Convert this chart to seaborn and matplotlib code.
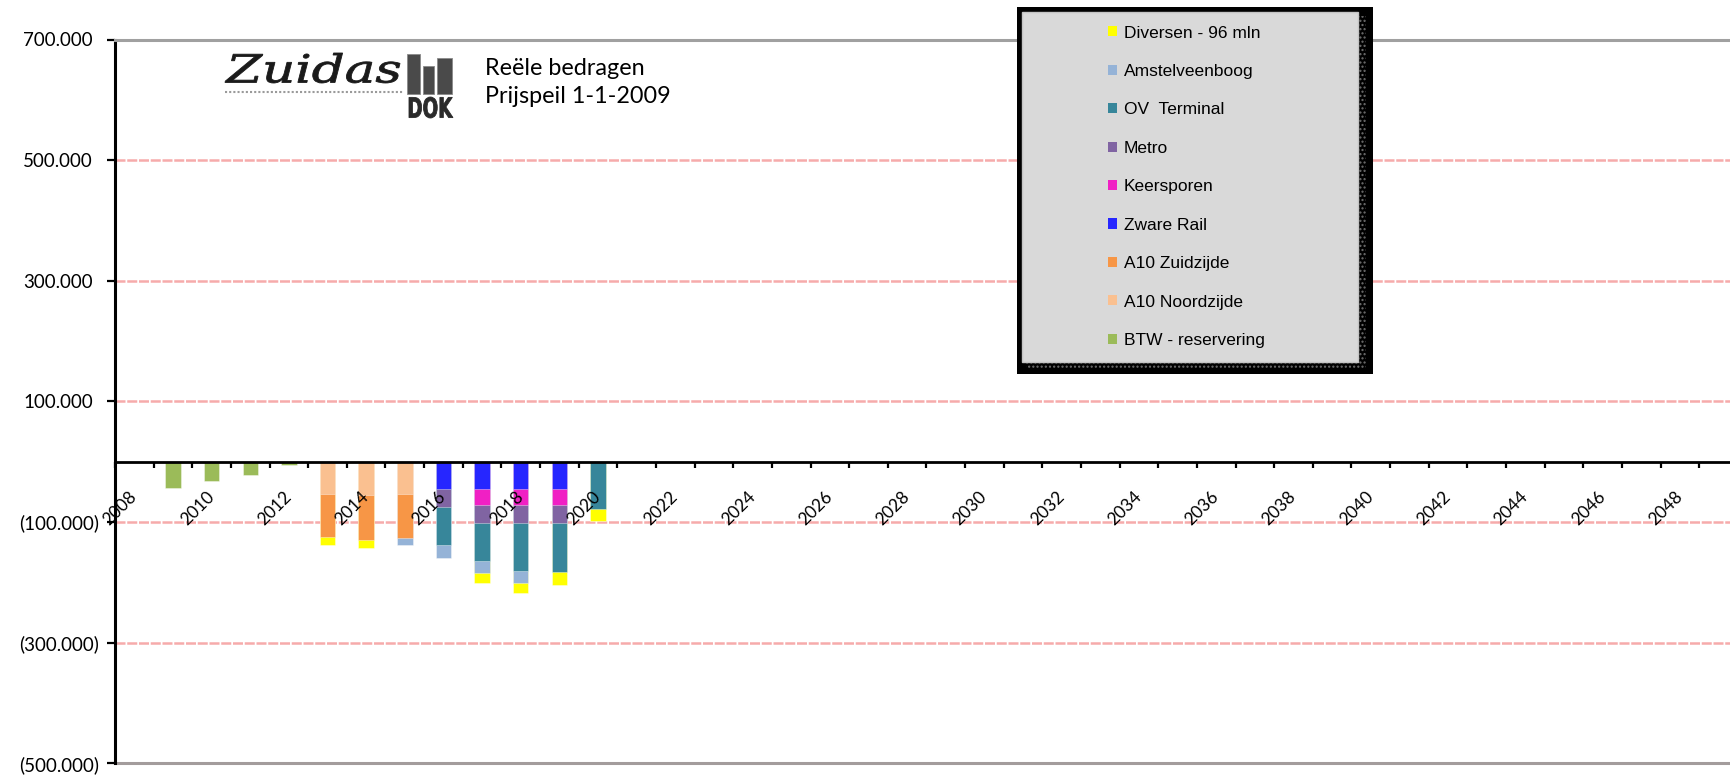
import numpy as np
import pandas as pd
import matplotlib
matplotlib.use("Agg")
import matplotlib.pyplot as plt
import seaborn as sns
from matplotlib.patches import Patch, Rectangle, PathPatch
from matplotlib.lines import Line2D
from matplotlib.textpath import TextPath
from matplotlib.font_manager import FontProperties
from matplotlib.transforms import Affine2D

# categories on the x axis (one per year)
years = list(range(2008, 2050))
data_years = [2008, 2009, 2010, 2011, 2012, 2013, 2014, 2015, 2016, 2017, 2018, 2019, 2020]

# series values (negative = outgoing), per data_years
btw_reservering = [0, -43400, -31800, -22400, -5800, 0, 0, 0, 0, 0, 0, 0, 0]
a10_noordzijde = [0, 0, 0, 0, 0, -53900, -55600, -53900, 0, 0, 0, 0, 0]
a10_zuidzijde = [0, 0, 0, 0, 0, -71300, -74600, -71800, 0, 0, 0, 0, 0]
zware_rail = [0, 0, 0, 0, 0, 0, 0, 0, -45600, -45600, -45600, -45600, 0]
keersporen = [0, 0, 0, 0, 0, 0, 0, 0, 0, -26000, -26000, -26000, 0]
metro = [0, 0, 0, 0, 0, 0, 0, 0, -29300, -29300, -29300, -29300, 0]
ov_terminal = [0, 0, 0, 0, 0, 0, 0, 0, -63600, -63000, -79600, -81800, -77800]
amstelveenboog = [0, 0, 0, 0, 0, 0, 0, -12300, -20400, -21000, -21000, 0, 0]
diversen = [0, 0, 0, 0, 0, -12800, -12100, 0, 0, -16100, -15400, -21000, -21000]

series_names = ["BTW - reservering", "A10 Noordzijde", "A10 Zuidzijde", "Zware Rail",
                "Keersporen", "Metro", "OV  Terminal", "Amstelveenboog", "Diversen - 96 mln"]
series_values = [btw_reservering, a10_noordzijde, a10_zuidzijde, zware_rail,
                 keersporen, metro, ov_terminal, amstelveenboog, diversen]
series_colors = ["#9BBB59", "#FAC090", "#F79646", "#2626FF",
                 "#F020C4", "#8064A2", "#37869A", "#95B3D7", "#FFFF00"]

y_ticks = [700000, 500000, 300000, 100000, -100000, -300000, -500000]

W, H = 1731, 775


def fx(px):
    return px / W


def fy(py):
    return 1 - py / H


# stacked bars: cumulative totals, outermost drawn first
rows = []
cum = np.zeros(len(data_years))
for name, vals in zip(series_names, series_values):
    vals = np.array(vals, dtype=float)
    cum = cum + vals
    for yr, v, c in zip(data_years, vals, cum):
        if v != 0:
            rows.append({"year": str(yr), "value": c, "series": name})
df = pd.DataFrame(rows)

fig = plt.figure(figsize=(W / 100, H / 100), dpi=100)
x_left, x_right = 115, 115 + 42 * 38.64
y_top, y_bot = 39.5, 763.4
ax = fig.add_axes([fx(x_left), fy(y_bot), (x_right - x_left) / W, (y_bot - y_top) / H])

sns.barplot(data=df, x="year", y="value", hue="series",
            order=[str(y) for y in years], hue_order=series_names[::-1],
            palette=dict(zip(series_names, series_colors)), dodge=False,
            width=0.4, saturation=1, errorbar=None, legend=False,
            edgecolor=(1, 1, 1, 0.45), linewidth=0.6, ax=ax)

ax.set_xlabel("")
ax.set_ylabel("")
ax.set_xlim(-0.5, len(years) - 0.5)
ax.set_ylim(-500000, 700000)

# gridlines
for v in y_ticks[1:-1]:
    ax.axhline(v, color="#F6ABAB", lw=1.8, ls=(0, (4, 0.7)), zorder=0.5)
ax.axhline(-500000, color="#A39C9C", lw=2.2, zorder=0.6, clip_on=False)

ax.spines["right"].set_visible(False)
ax.spines["top"].set_color("#A0A0A0")
ax.spines["top"].set_linewidth(2.2)
ax.spines["left"].set_color("black")
ax.spines["left"].set_linewidth(2.2)
ax.spines["bottom"].set_position(("data", 0))
ax.spines["bottom"].set_color("black")
ax.spines["bottom"].set_linewidth(2.0)

# x axis: ticks between categories, labels every other year
ax.set_xticks(np.arange(len(years) + 1) - 0.5)
ax.set_xticklabels([])
ax.set_xticks(np.arange(0, len(years), 2), minor=True)
ax.set_xticklabels([str(y) for y in years[::2]], minor=True, rotation=45,
                   ha="right", va="center", rotation_mode="anchor",
                   fontsize=12.5, family="Lato")
ax.tick_params(axis="x", which="major", direction="out", length=4.5, width=1.6, color="black")
ax.tick_params(axis="x", which="minor", length=0, pad=23.5)

# y axis
ax.set_yticks(y_ticks)
ax.set_yticklabels([f"{abs(v) // 1000}.000" if v > 0 else f"({abs(v) // 1000}.000)" for v in y_ticks],
                   fontsize=13.5, family="Lato")
ax.tick_params(axis="y", direction="out", length=5.5, width=1.6, color="black", pad=6)
for t, v in zip(ax.yaxis.get_major_ticks(), y_ticks):
    if v > 0:
        t.set_pad(10.5)


def stretched_text(s, x0, x1, ytop, ybase, family, weight="normal", style="normal", color="#1a1a1a"):
    tp = TextPath((0, 0), s, size=1, prop=FontProperties(family=family, weight=weight, style=style))
    e = tp.get_extents()
    tr = (Affine2D().translate(-e.x0, -e.y0)
          .scale((x1 - x0) / e.width, (ybase - ytop) / e.height)
          .translate(x0, H - ybase))
    fig.add_artist(PathPatch(tp, transform=tr, facecolor=color, edgecolor=color, lw=0.6))


# logo
stretched_text("Zuidas", 225, 400, 53, 83, "DejaVu Serif", style="italic")
fig.add_artist(Line2D([fx(225), fx(403)], [fy(91.5), fy(91.5)], transform=fig.transFigure,
                      color="#9a9a9a", lw=1.5, ls=(0, (1, 1))))
for bx0, bx1, bt in [(407.5, 420.5, 54), (423, 434, 66), (437, 452, 58)]:
    fig.add_artist(Rectangle((fx(bx0), fy(93.5)), (bx1 - bx0) / W, (93.5 - bt) / H,
                             transform=fig.transFigure, facecolor="#4a4a4a", edgecolor="#8a8a8a", lw=0.6))
stretched_text("DOK", 409, 453, 97, 118, "DejaVu Sans", weight="bold", color="#2a2a2a")

fig.text(fx(485), fy(75), "Reële bedragen", fontsize=16.8, family="Lato", va="baseline")
fig.text(fx(485), fy(103.3), "Prijspeil 1-1-2009", fontsize=16.8, family="Lato", va="baseline")

# legend box
fig.add_artist(Rectangle((fx(1016.7), fy(374)), (1372.7 - 1016.7) / W, (374 - 6.7) / H,
                         transform=fig.transFigure, facecolor="black", edgecolor="black", lw=0))
fig.add_artist(Rectangle((fx(1026), fy(368)), (1366 - 1026) / W, (368 - 16) / H,
                         transform=fig.transFigure, facecolor="black", edgecolor="#707070",
                         hatch="....", lw=0))
fig.add_artist(Rectangle((fx(1022.3), fy(361.7)), (1357.5 - 1022.3) / W, (361.7 - 12.3) / H,
                         transform=fig.transFigure, facecolor="#D9D9D9", edgecolor="#C4C4C4", lw=1))

handles = [Patch(facecolor=c, edgecolor="none") for c in series_colors[::-1]]
fig.legend(handles, series_names[::-1], loc="upper left",
           bbox_to_anchor=(fx(1107.7), fy(25.5)), bbox_transform=fig.transFigure,
           frameon=False, prop=FontProperties(family="Liberation Sans", size=12.5),
           handlelength=0.52, handleheight=0.52, handletextpad=0.42,
           labelspacing=1.35, borderpad=0, borderaxespad=0)

fig.savefig("out.png", dpi=100)
